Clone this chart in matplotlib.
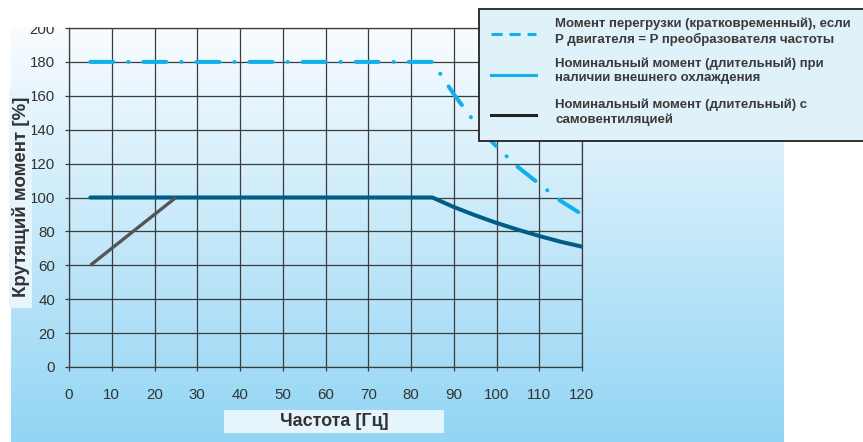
import numpy as np
import matplotlib
matplotlib.use("Agg")
import matplotlib.pyplot as plt
from matplotlib.patches import Rectangle
from matplotlib.lines import Line2D

plt.rcParams['font.family'] = ['Liberation Sans', 'DejaVu Sans']
plt.rcParams['lines.scale_dashes'] = False

# ---- data ----
freq_overload = [5, 85, 90, 95, 100, 105, 110, 115, 120]
torque_overload = [180, 180, 161, 144, 130, 118, 108, 98, 90]
freq_nominal = [5, 85, 90, 95, 100, 105, 110, 115, 120]
torque_nominal = [100, 100, 94.4, 89.5, 85, 81, 77.3, 73.9, 71]
freq_selfvent = [5, 25]
torque_selfvent = [60, 100]
x_ticks = [0, 10, 20, 30, 40, 50, 60, 70, 80, 90, 100, 110, 120]
y_ticks = [0, 20, 40, 60, 80, 100, 120, 140, 160, 180, 200]
legend_labels = [
    "Момент перегрузки (кратковременный), если\nP двигателя = P преобразователя частоты",
    "Номинальный момент (длительный) при\nналичии внешнего охлаждения",
    "Номинальный момент (длительный) с\nсамовентиляцией",
]
x_label = "Частота [Гц]"
y_label = "Крутящий момент [%]"

W, H = 863, 442
fig = plt.figure(figsize=(W / 100, H / 100), dpi=100)
fig.patch.set_facecolor('white')

def fx(px):
    return px / W

def fy(py):
    return 1 - py / H

# gradient background panel
bg = fig.add_axes([fx(11), fy(442), fx(783) - fx(11), fy(27) - fy(442)], zorder=-5)
top = np.array([0.975, 0.99, 1.0])
bot = np.array([0x92, 0xd5, 0xf4]) / 255
t = np.linspace(0, 1, 256)[:, None]
grad = top[None, :] * (1 - t) + bot[None, :] * t
bg.imshow(grad[:, None, :], aspect='auto', extent=[0, 1, 0, 1])
bg.set_axis_off()

# main axes
ax = fig.add_axes([fx(69), fy(367), fx(582) - fx(69), fy(28) - fy(367)], zorder=1)
ax.patch.set_alpha(0)
ax.set_xlim(0, 120)
ax.set_ylim(0, 200)
ax.set_xticks(x_ticks)
ax.set_yticks(y_ticks)
ax.grid(True, color='#3c3c3c', linewidth=0.9)
for s in ax.spines.values():
    s.set_color('#3c3c3c')
    s.set_linewidth(0.9)
ax.tick_params(axis='both', direction='out', length=3, width=0.9, color='#3c3c3c',
               labelsize=10.8, labelcolor='#333333')
ax.tick_params(axis='x', pad=12)
ax.tick_params(axis='y', pad=7)

ax.plot(freq_overload, torque_overload, color='#12b0ea', linewidth=2.9,
        dashes=(16.5, 10.8, 0.1, 10.8), dash_capstyle='round', solid_capstyle='round', zorder=3)
ax.plot(freq_nominal, torque_nominal, color='#005d86', linewidth=2.9,
        solid_capstyle='round', zorder=3)
ax.plot(freq_selfvent, torque_selfvent, color='#555555', linewidth=2.4,
        solid_capstyle='butt', zorder=4)

# white strip above panel (clips top label)
fig.add_artist(Rectangle((0, fy(27)), 1, 1 - fy(27), transform=fig.transFigure,
                         facecolor='white', edgecolor='none', zorder=5))

# axis label boxes
fig.add_artist(Rectangle((fx(9), fy(308)), fx(32) - fx(9), fy(89) - fy(308),
                         transform=fig.transFigure, facecolor='#e6f4fb',
                         edgecolor='none', zorder=5))
fig.text(fx(20.5), fy(197), y_label, rotation=90, ha='center', va='center',
         fontsize=13.5, fontweight='bold', color='#333333', zorder=6)
fig.add_artist(Rectangle((fx(224), fy(433)), fx(444) - fx(224), fy(410) - fy(433),
                         transform=fig.transFigure, facecolor='#e6f4fb',
                         edgecolor='none', zorder=5))
fig.text(fx(334), fy(422), x_label, ha='center', va='center',
         fontsize=13, fontweight='bold', color='#333333', zorder=6)

# legend box
fig.add_artist(Rectangle((fx(479), fy(141)), fx(870) - fx(479), fy(9) - fy(141),
                         transform=fig.transFigure, facecolor='#dff1f9',
                         edgecolor='#222222', linewidth=1.3, zorder=7))
handle_styles = [
    dict(color='#12b0ea', linewidth=2.2, dashes=(8, 5)),
    dict(color='#12b0ea', linewidth=2.2),
    dict(color='#222222', linewidth=2.2),
]
handle_y = [34, 75, 115]
text_y = [31.5, 71, 112]
for lab, st, hy, ty in zip(legend_labels, handle_styles, handle_y, text_y):
    fig.add_artist(Line2D([fx(491), fx(536)], [fy(hy), fy(hy)],
                          transform=fig.transFigure, zorder=8, **st))
    fig.text(fx(555), fy(ty), lab, ha='left', va='center', fontsize=9.5,
             fontweight='bold', color='#3a3a3a', linespacing=1.25, zorder=8)

fig.savefig('out.png', dpi=100)
